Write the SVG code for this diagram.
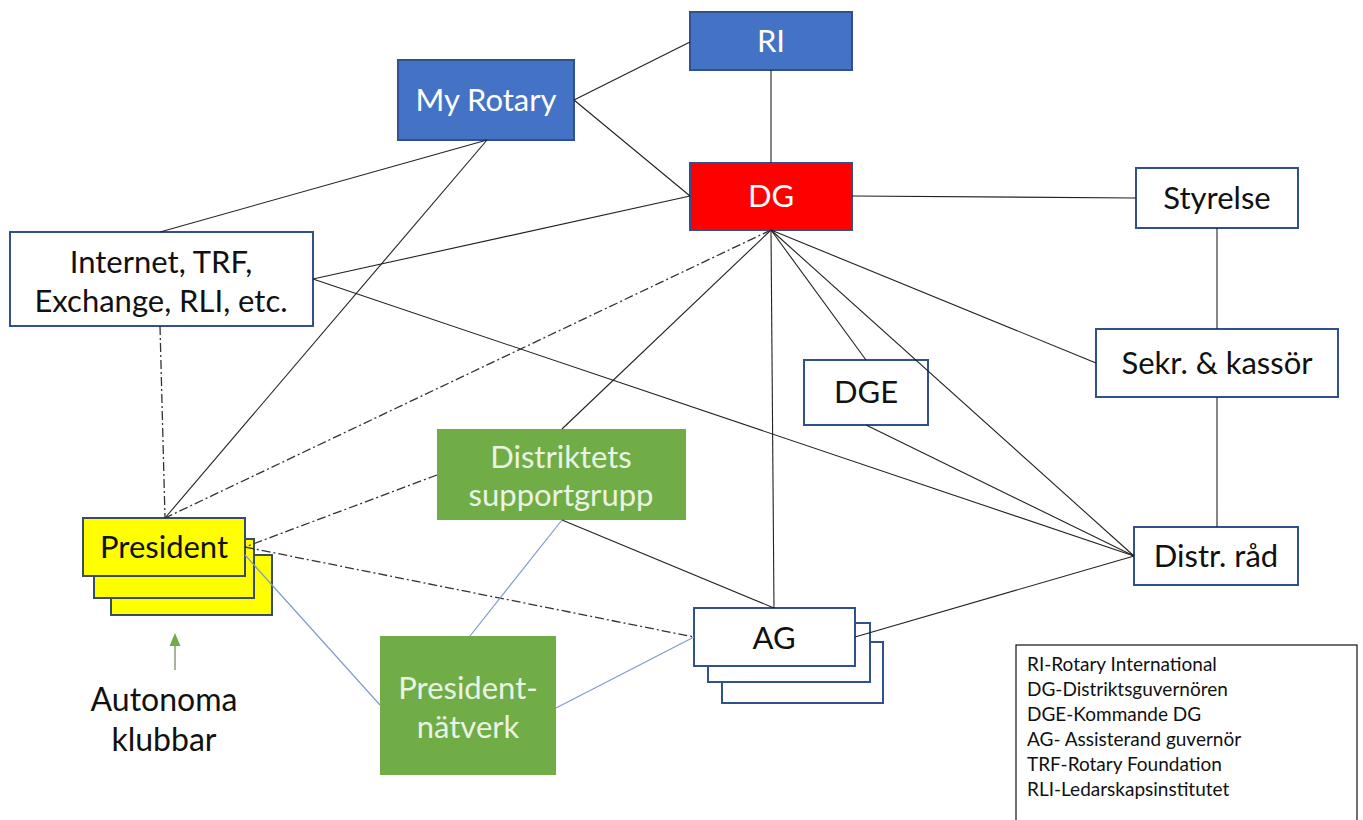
<svg xmlns="http://www.w3.org/2000/svg" width="1363" height="820" viewBox="0 0 1363 820">
<style>
  text { font-family: Lato, "Liberation Sans", sans-serif; font-size: 31px; text-anchor: middle; }
  .w { fill: #ffffff; }
  .g { fill: #EAF3E3; }
  .k { fill: #111111; }
  .blue { fill: #4472C4; stroke: #2F528F; stroke-width: 2; }
  .red { fill: #FF0000; stroke: #2F528F; stroke-width: 2; }
  .white { fill: #ffffff; stroke: #2F528F; stroke-width: 2; }
  .green { fill: #70AD47; stroke: none; }
  .yellow { fill: #FFFF00; stroke: #3A4A6A; stroke-width: 2; }
  .ln { stroke: #222; stroke-width: 1.1; fill: none; }
  .dd { stroke: #333; stroke-width: 1.3; fill: none; stroke-dasharray: 9 3 2 3; }
  .bl { stroke: #7F9CC9; stroke-width: 1.2; fill: none; }
  .legend text { font-size: 19px; text-anchor: start; fill: #111; }
</style>
<rect width="1363" height="820" fill="#ffffff"/>

<g id="node-ri"><rect class="blue" x="690" y="12" width="162" height="58"/><text class="w" x="771" y="52">RI</text></g>
<g id="node-myrotary"><rect class="blue" x="398" y="60" width="176" height="80"/><text class="w" x="486" y="111">My Rotary</text></g>
<g id="node-dg"><rect class="red" x="690" y="163" width="162" height="67"/><text class="w" x="771" y="207">DG</text></g>
<g id="node-styrelse"><rect class="white" x="1136" y="168" width="162" height="60"/><text class="k" x="1217" y="209">Styrelse</text></g>
<g id="node-internet"><rect class="white" x="10" y="232" width="303" height="94"/><text class="k" x="161" y="273">Internet, TRF,</text><text class="k" x="161" y="312">Exchange, RLI, etc.</text></g>
<g id="node-sekr"><rect class="white" x="1096" y="329" width="242" height="68"/><text class="k" x="1217" y="374">Sekr. &amp; kassör</text></g>
<g id="node-dge"><rect class="white" x="804" y="360" width="124" height="65"/><text class="k" x="866" y="403">DGE</text></g>
<g id="node-distriktets"><rect class="green" x="437" y="429" width="249" height="91"/><text class="g" x="561" y="468">Distriktets</text><text class="g" x="561" y="506">supportgrupp</text></g>
<g id="node-president">
  <rect class="yellow" x="111" y="555" width="161" height="60"/>
  <rect class="yellow" x="94" y="539" width="160" height="59"/>
  <rect class="yellow" x="83" y="518" width="162" height="58"/>
  <text class="k" x="164" y="558">President</text>
</g>
<g id="node-ag">
  <rect class="white" x="722" y="642" width="161" height="61"/>
  <rect class="white" x="708" y="623" width="162" height="59"/>
  <rect class="white" x="694" y="608" width="161" height="58"/>
  <text class="k" x="774" y="649">AG</text>
</g>
<g id="node-presnatverk"><rect class="green" x="380" y="636" width="176" height="139"/><text class="g" x="468" y="699">President-</text><text class="g" x="468" y="738">nätverk</text></g>
<g id="node-distrrad"><rect class="white" x="1134" y="527" width="164" height="58"/><text class="k" x="1216" y="567">Distr. råd</text></g>
<g id="node-autonoma">
  <line x1="175" y1="670" x2="175" y2="645" stroke="#8A9A80" stroke-width="1.5"/>
  <polygon points="175,633 180.5,646 169.5,646" fill="#70AD47"/>
  <text class="k" x="164" y="711" style="font-size:32px">Autonoma</text><text class="k" x="164" y="751" style="font-size:32px">klubbar</text>
</g>

<g id="connectors">
  <line class="ln" x1="574" y1="100" x2="690" y2="42"/>
  <line class="ln" x1="574" y1="100" x2="690" y2="196"/>
  <line class="ln" x1="771" y1="70" x2="771" y2="163"/>
  <line class="ln" x1="487" y1="140" x2="160" y2="232"/>
  <line class="ln" x1="487" y1="140" x2="165" y2="518"/>
  <line class="ln" x1="690" y1="196" x2="313" y2="279"/>
  <line class="ln" x1="313" y1="279" x2="1134" y2="556"/>
  <line class="ln" x1="852" y1="196" x2="1136" y2="198"/>
  <line class="ln" x1="1217" y1="228" x2="1217" y2="329"/>
  <line class="ln" x1="1217" y1="397" x2="1217" y2="527"/>
  <line class="ln" x1="771" y1="230" x2="1096" y2="363"/>
  <line class="ln" x1="771" y1="230" x2="1134" y2="556"/>
  <line class="ln" x1="771" y1="230" x2="866" y2="360"/>
  <line class="ln" x1="771" y1="230" x2="774" y2="608"/>
  <line class="ln" x1="771" y1="230" x2="562" y2="429"/>
  <line class="ln" x1="562" y1="520" x2="774" y2="608"/>
  <line class="ln" x1="866" y1="425" x2="1134" y2="556"/>
  <line class="ln" x1="855" y1="637" x2="1134" y2="556"/>
  <line class="dd" x1="771" y1="230" x2="165" y2="518"/>
  <line class="dd" x1="160" y1="326" x2="165" y2="518"/>
  <line class="dd" x1="437" y1="475" x2="245" y2="547"/>
  <line class="dd" x1="245" y1="547" x2="694" y2="637"/>
  <line class="bl" x1="245" y1="555" x2="380" y2="705"/>
  <line class="bl" x1="562" y1="520" x2="470" y2="636"/>
  <line class="bl" x1="556" y1="708" x2="694" y2="637"/>
</g>

<g id="legend" class="legend">
  <rect x="1016" y="645" width="341" height="180" fill="#ffffff" stroke="#111" stroke-width="1.2"/>
  <text x="1027" y="671">RI-Rotary International</text>
  <text x="1027" y="696">DG-Distriktsguvernören</text>
  <text x="1027" y="721">DGE-Kommande DG</text>
  <text x="1027" y="746">AG- Assisterand guvernör</text>
  <text x="1027" y="771">TRF-Rotary Foundation</text>
  <text x="1027" y="796">RLI-Ledarskapsinstitutet</text>
</g>
</svg>
